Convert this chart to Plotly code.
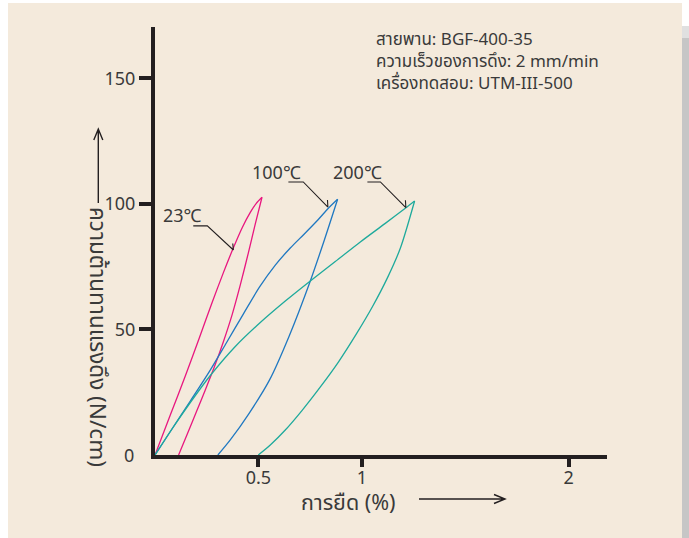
import plotly.graph_objects as go

# Elongation (%) and tensile force (N/cm) for the loading / unloading loops
strain_23_load = [0, 0.074, 0.1465, 0.2142, 0.2771, 0.3303, 0.3786, 0.4222, 0.4608, 0.4898, 0.5174]
force_23_load = [0, 15.9, 31.45, 46.6, 60.9, 72.5, 82.4, 90.6, 96.6, 100.2, 102.6]
strain_23_unload = [0.5174, 0.4850, 0.4512, 0.4125, 0.3738, 0.3303, 0.2868, 0.2432, 0.1997, 0.1562, 0.1141]
force_23_unload = [102.6, 92.0, 80.4, 67.7, 56.1, 45.0, 35.0, 25.9, 17.1, 8.4, 0]

strain_100_load = [0, 0.0837, 0.1707, 0.2611, 0.3448, 0.427, 0.5058, 0.5817, 0.6542, 0.7220, 0.7897, 0.8380, 0.8830]
force_100_load = [0, 10.55, 21.5, 33.0, 44.6, 56.1, 66.9, 75.6, 82.4, 88.0, 93.75, 98.2, 101.8]
strain_100_unload = [0.8830, 0.819, 0.751, 0.649, 0.554, 0.456, 0.364, 0.304]
force_100_unload = [101.8, 85.6, 69.3, 47.4, 29.9, 16.7, 6.0, 0]

strain_200_load = [0, 0.0837, 0.1707, 0.2674, 0.3883, 0.5092, 0.6301, 0.7510, 0.8718, 0.9927, 1.1136,
                   1.2104, 1.2553]
force_200_load = [0, 10.55, 20.9, 31.65, 43.2, 52.75, 61.3, 69.3, 77.0, 84.8, 92.2, 98.2, 101.1]
strain_200_unload = [1.2553, 1.1867, 1.1238, 1.0513, 0.9739, 0.8868, 0.7997, 0.7125, 0.630, 0.5575, 0.4995]
force_200_unload = [101.1, 82.4, 70.5, 59.0, 48.2, 37.0, 27.1, 17.9, 9.95, 3.98, 0]

x_ticks = [0.5, 1, 2]
x_tick_text = ["0.5", "1", "2"]
y_ticks = [50, 100, 150]
y_tick_text = ["50", "100", "150"]

series = [
    ("23℃", strain_23_load, force_23_load, strain_23_unload, force_23_unload, "#e8177f"),
    ("100℃", strain_100_load, force_100_load, strain_100_unload, force_100_unload, "#1f78c1"),
    ("200℃", strain_200_load, force_200_load, strain_200_unload, force_200_unload, "#1eaa9c"),
]

info_lines = ["สายพาน: BGF-400-35", "ความเร็วของการดึง: 2 mm/min", "เครื่องทดสอบ: UTM-III-500"]

W, H = 689, 538
ML, MR, MT, MB = 155, 82, 27, 83
PW, PH = W - ML - MR, H - MT - MB
X_PER_UNIT = 206.8
Y_PER_UNIT = 2.512
x_max = PW / X_PER_UNIT
y_max = PH / Y_PER_UNIT

FONT = "Noto Sans, Noto Sans Thai, Loma, Garuda, Tlwg Typo, sans-serif"
TEXT = "#3a3a3a"
INK = "#231f20"


def px(x):
    return (x - ML) / PW


def py(y):
    return (H - MB - y) / PH


fig = go.Figure()
for name, xl, yl, xu, yu, col in series:
    for xs, ys in ((xl, yl), (xu, yu)):
        fig.add_trace(go.Scatter(x=xs, y=ys, mode="lines",
                                 line=dict(color=col, width=1.3, shape="spline", smoothing=0.8),
                                 name=name, showlegend=False, hoverinfo="skip"))

shapes = []
# beige panel and its drop shadow
shapes.append(dict(type="rect", xref="paper", yref="paper", x0=px(682), x1=px(689), y0=py(538), y1=py(38),
                   fillcolor="#c6c6c6", line=dict(width=0), layer="below"))
shapes.append(dict(type="rect", xref="paper", yref="paper", x0=px(682), x1=px(689), y0=py(38), y1=py(26),
                   fillcolor="#e0e0e0", line=dict(width=0), layer="below"))
shapes.append(dict(type="rect", xref="paper", yref="paper", x0=px(8), x1=px(682), y0=py(538), y1=py(3),
                   fillcolor="#f4eadc", line=dict(width=0), layer="below"))

# leader lines from the temperature labels to the curves (strain, force)
leaders = [
    [(0.185, 91.2), (0.253, 91.2), (0.379, 81.6), (0.376, 84.2)],
    [(0.645, 108.7), (0.717, 108.7), (0.836, 98.7), (0.834, 101.5)],
    [(1.027, 108.7), (1.090, 108.7), (1.213, 98.5), (1.211, 101.4)],
]
for pts in leaders:
    (ax0, ay0), (ax1, ay1), (ax2, ay2), (ax3, ay3) = pts
    shapes.append(dict(type="path", xref="x", yref="y",
                       path=f"M{ax0},{ay0} L{ax1},{ay1} L{ax2},{ay2} M{ax2},{ay2} L{ax3},{ay3}",
                       line=dict(color=INK, width=1.1)))

# axis direction arrows
shapes.append(dict(type="path", xref="paper", yref="paper",
                   path=f"M{px(419)},{py(499)} L{px(505)},{py(499)} M{px(494)},{py(494.5)} L{px(505)},{py(499)} L{px(494)},{py(503.5)}",
                   line=dict(color=INK, width=1.4)))
shapes.append(dict(type="path", xref="paper", yref="paper",
                   path=f"M{px(98.3)},{py(203)} L{px(98.3)},{py(129)} M{px(93.8)},{py(140)} L{px(98.3)},{py(129)} L{px(102.8)},{py(140)}",
                   line=dict(color=INK, width=1.4)))

annotations = [
    dict(text="<br>".join(info_lines), xref="paper", yref="paper", x=px(374), y=py(60.5),
         xanchor="left", yanchor="middle", align="left", showarrow=False,
         font=dict(family=FONT, size=17, color=TEXT)),
    dict(text="23℃", x=0.134, y=95.5, xref="x", yref="y", showarrow=False,
         font=dict(family=FONT, size=18, color=TEXT)),
    dict(text="100℃", x=0.587, y=112.7, xref="x", yref="y", showarrow=False,
         font=dict(family=FONT, size=18, color=TEXT)),
    dict(text="200℃", x=0.981, y=112.7, xref="x", yref="y", showarrow=False,
         font=dict(family=FONT, size=18, color=TEXT)),
    dict(text="0", xref="paper", yref="y", x=px(136), y=0, xanchor="right", yanchor="middle", showarrow=False,
         font=dict(family=FONT, size=18, color=TEXT)),
    dict(text="การยืด (%)", xref="paper", yref="paper", x=px(348), y=py(501), xanchor="center", yanchor="middle",
         showarrow=False, font=dict(family=FONT, size=21.5, color=TEXT)),
    dict(text="ความต้านทานแรงดึง (N/cm)", xref="paper", yref="paper", x=px(99), y=py(337), textangle=90,
         xanchor="center", yanchor="middle", showarrow=False, font=dict(family=FONT, size=22.5, color=TEXT)),
]

fig.update_layout(
    width=W, height=H,
    margin=dict(l=ML, r=MR, t=MT, b=MB, pad=0),
    paper_bgcolor="white",
    plot_bgcolor="rgba(0,0,0,0)",
    shapes=shapes,
    annotations=annotations,
    xaxis=dict(range=[0, x_max], tickvals=x_ticks, ticktext=x_tick_text, showgrid=False, zeroline=False,
               showline=True, linecolor=INK, linewidth=4, ticks="outside", ticklen=8, tickwidth=4, tickcolor=INK,
               ticklabelstandoff=-5, tickfont=dict(family=FONT, size=18, color=TEXT)),
    yaxis=dict(range=[0, y_max], tickvals=y_ticks, ticktext=y_tick_text, showgrid=False, zeroline=False,
               showline=True, linecolor=INK, linewidth=4, ticks="outside", ticklen=12, tickwidth=4, tickcolor=INK,
               tickfont=dict(family=FONT, size=18, color=TEXT)),
)

fig.write_html("out.html")
